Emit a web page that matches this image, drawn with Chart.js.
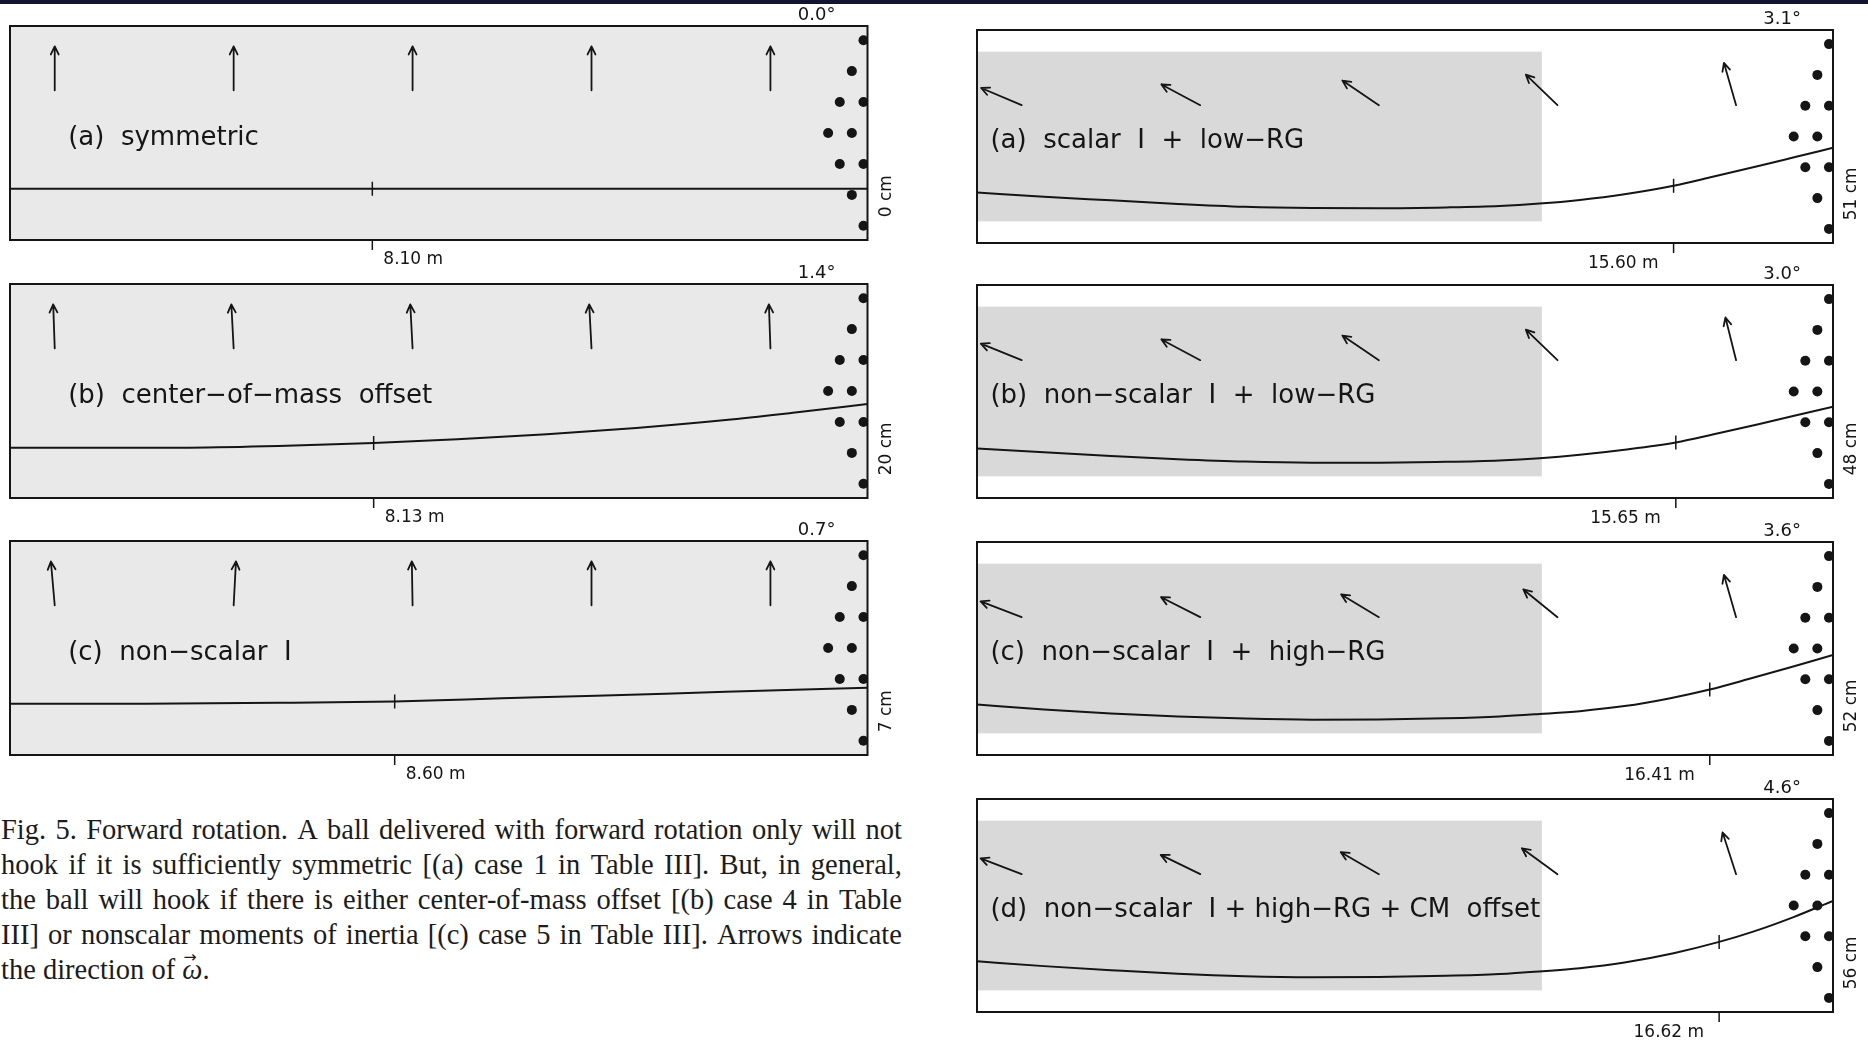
<!DOCTYPE html>
<html>
<head>
<meta charset="utf-8">
<title>Fig. 5 Forward rotation</title>
<script src="https://cdn.jsdelivr.net/npm/chart.js@4.4.1/dist/chart.umd.min.js"></script>
<style>
  html, body { margin: 0; padding: 0; background: #fff; }
  body { width: 1868px; height: 1041px; position: relative; overflow: hidden; }
  .topbar { position: absolute; left: 0; top: 0; width: 1868px; height: 4px; background: #11152f; }
  canvas.lane { position: absolute; }
  #caption {
    position: absolute; left: 1px; top: 812px; width: 901px;
    font-family: "Liberation Serif", "Times New Roman", serif;
    font-size: 28.5px; line-height: 35px; color: #1c1c1c;
  }
  #caption .line { display: flex; justify-content: space-between; white-space: nowrap; }
  #caption .line.last { justify-content: flex-start; }
  #caption .line.last > span { margin-right: 0.25em; }
  .vec { display: inline-block; position: relative; font-style: italic; }
  .vec .arr {
    position: absolute; left: 0.08em; top: -0.2em; line-height: 1;
    font-size: 0.55em; font-style: normal; font-family: "DejaVu Sans", sans-serif;
  }
</style>
</head>
<body>
<div class="topbar"></div>
<div id="caption"></div>
<script>
// Lane geometry: x in metres from the foul line, y in cm from the lane centre
const laneLength = 19.17;
const laneHalfWidth = 52.7;
const oilLength = 12.65;
const oilHalfWidth = 42;

// Pin deck (head pin first)
const pinX = [18.29, 18.55, 18.55, 18.82, 18.82, 18.82, 19.08, 19.08, 19.08, 19.08];
const pinY = [0, 15.24, -15.24, 30.48, 0, -30.48, 45.72, 15.24, -15.24, -45.72];

// Omega arrows: where they sit along the lane
const arrowX = [1, 5, 9, 13, 17];
const arrowYLeft = 21;
const arrowYRight = 15.5;

// Left column: forward rotation only
const leftTitles = ['(a)  symmetric', '(b)  center\u2212of\u2212mass  offset', '(c)  non\u2212scalar  I'];
const leftSkid = [8.10, 8.13, 8.60];
const leftEntryAngle = [0.0, 1.4, 0.7];
const leftHook = [0, 20, 7];
const leftArrowTilt = [[0, 0, 0, 0, 0], [2, 3, 3, 3, 2], [5, -3, 1, 0, 0]];

const symPathX = [0, 4, 8.10, 12, 19.17];
const symPathY = [-27.5, -27.5, -27.5, -27.5, -27.5];
const cmPathX = [0, 2, 4, 6, 8.13, 10, 12, 14, 16, 17.5, 19.17];
const cmPathY = [-28, -28, -27.9, -27.1, -25.6, -23.8, -21.3, -18.2, -14.3, -10.7, -6.4];
const nsPathX = [0, 3, 6, 8.60, 11, 13.1, 16, 19.17];
const nsPathY = [-27.5, -27.4, -27.0, -26.3, -24.8, -23.5, -21.6, -19.6];

// Right column: oiled front, dry back end
const rightTitles = [
    '(a)  scalar  I  +  low\u2212RG',
    '(b)  non\u2212scalar  I  +  low\u2212RG',
    '(c)  non\u2212scalar  I  +  high\u2212RG',
    '(d)  non\u2212scalar  I + high\u2212RG + CM  offset'
];
const rightSkid = [15.60, 15.65, 16.41, 16.62];
const rightEntryAngle = [3.1, 3.0, 3.6, 4.6];
const rightHook = [51, 48, 52, 56];
const rightArrowTilt = [[67, 62, 56, 46, 16], [68, 62, 56, 46, 14], [69, 63, 59, 51, 16], [69, 64, 60, 54, 18]];

const lowRgPathX = [0, 1.5, 3, 4.5, 6, 7.5, 9, 10.5, 11.7, 12.6, 13.5, 14.5, 15.60, 16.5, 17.5, 18.3, 19.17];
const lowRgPathY = [-27.7, -29.8, -31.6, -33.4, -34.8, -35.4, -35.5, -35.1, -34.4, -33.2, -31.4, -28.6, -24.4, -19.8, -14.6, -10.3, -5.6];
const nsLowPathX = [0, 1.5, 3, 4.5, 6, 7.5, 9, 10.5, 11.7, 12.6, 13.5, 14.5, 15.65, 16.5, 17.5, 18.3, 19.17];
const nsLowPathY = [-28.2, -30.1, -31.9, -33.5, -34.7, -35.2, -35.2, -34.8, -34.1, -33.0, -31.3, -28.8, -25.2, -21.2, -16.2, -12.0, -7.5];
const nsHighPathX = [0, 1.5, 3, 4.5, 6, 7.5, 9, 10.5, 11.7, 12.6, 13.5, 14.5, 15.5, 16.41, 17.3, 18.3, 19.17];
const nsHighPathY = [-27.7, -30.2, -32.2, -33.7, -34.7, -35.2, -35.1, -34.5, -33.6, -32.4, -31.0, -28.5, -24.7, -20.3, -15.0, -8.8, -3.2];
const cmHighPathX = [0, 1.5, 3, 4.5, 6, 7.5, 9, 10.5, 11.7, 12.6, 13.5, 14.5, 15.6, 16.62, 17.4, 18.3, 19.17];
const cmHighPathY = [-27.6, -30.0, -32.0, -33.8, -35.0, -35.5, -35.4, -34.8, -33.9, -32.6, -31.0, -28.2, -23.6, -18.0, -12.8, -5.6, 2.3];

// Where each hook label starts, in cm across the lane
const hookLabelStart = -41.5;

// Caption, one entry per printed line
const captionLines = [
    'Fig. 5. Forward rotation. A ball delivered with forward rotation only will not',
    'hook if it is sufficiently symmetric [(a) case 1 in Table III]. But, in general,',
    'the ball will hook if there is either center-of-mass offset [(b) case 4 in Table',
    'III] or nonscalar moments of inertia [(c) case 5 in Table III]. Arrows indicate',
    'the direction of \u03c9.'
];

// Styling
const FONT = '"DejaVu Sans", "Liberation Sans", sans-serif';
const INK = '#151515';
const LANE_GRAY = '#e9e9e9';
const OIL_GRAY = '#d9d9d9';

// Frame boxes on the page
const LEFT_BOX = { left: 9.5, width: 857.5, height: 214, tops: [26, 283.5, 541] };
const RIGHT_BOX = { left: 977, width: 856, height: 213, tops: [30, 285, 542, 798.5] };

/**
 * Linear lookup of the path height at a given distance
 */
function pathYAt(xs, ys, x) {
    for (let i = 1; i < xs.length; i++) {
        if (x <= xs[i]) {
            const t = (x - xs[i - 1]) / (xs[i] - xs[i - 1]);
            return ys[i - 1] + t * (ys[i] - ys[i - 1]);
        }
    }
    return ys[ys.length - 1];
}

/**
 * Draws one omega arrow, leaning left by `tilt` degrees
 */
function drawArrow(ctx, bx, by, tilt, len) {
    const a = tilt * Math.PI / 180;
    const ux = -Math.sin(a), uy = -Math.cos(a);
    const tx = bx + ux * len, ty = by + uy * len;
    ctx.beginPath();
    ctx.moveTo(bx, by);
    ctx.lineTo(tx, ty);
    const head = 9, spread = 0.45;
    [spread, -spread].forEach(s => {
        const c = Math.cos(s), n = Math.sin(s);
        // back direction (-u) rotated by s
        const hx = -ux * c + uy * n;
        const hy = -ux * n - uy * c;
        ctx.moveTo(tx, ty);
        ctx.lineTo(tx + hx * head, ty + hy * head);
    });
    ctx.stroke();
}

/**
 * Builds the plugin that paints lane, frame, arrows and labels
 */
function makeLanePlugin(panel) {
    return {
        id: 'lane',
        beforeDatasetsDraw(chart) {
            const { ctx, chartArea: a, scales: { x, y } } = chart;
            ctx.save();
            if (panel.oil) {
                ctx.fillStyle = '#ffffff';
                ctx.fillRect(a.left, a.top, a.width, a.height);
                const x0 = x.getPixelForValue(0), x1 = x.getPixelForValue(oilLength);
                const y0 = y.getPixelForValue(oilHalfWidth), y1 = y.getPixelForValue(-oilHalfWidth);
                ctx.fillStyle = OIL_GRAY;
                ctx.fillRect(x0, y0, x1 - x0, y1 - y0);
            } else {
                ctx.fillStyle = LANE_GRAY;
                ctx.fillRect(a.left, a.top, a.width, a.height);
            }
            ctx.restore();
        },
        afterDatasetsDraw(chart) {
            const { ctx, chartArea: a, scales: { x, y } } = chart;
            ctx.save();
            ctx.strokeStyle = INK;
            ctx.fillStyle = INK;

            // Frame
            ctx.lineWidth = 2;
            ctx.strokeRect(a.left, a.top, a.width, a.height);

            // Omega arrows
            ctx.lineWidth = 1.8;
            ctx.lineCap = 'round';
            arrowX.forEach((ax, i) => {
                drawArrow(ctx, x.getPixelForValue(ax), y.getPixelForValue(panel.arrowY), panel.tilt[i], 44);
            });

            // Skid-to-roll mark on the path and below the frame
            const sx = x.getPixelForValue(panel.skid);
            const sy = y.getPixelForValue(pathYAt(panel.pathX, panel.pathY, panel.skid));
            ctx.lineWidth = 1.5;
            ctx.lineCap = 'butt';
            ctx.beginPath();
            ctx.moveTo(sx, sy - 7);
            ctx.lineTo(sx, sy + 7);
            ctx.moveTo(sx, a.bottom);
            ctx.lineTo(sx, a.bottom + 10);
            ctx.stroke();

            // Distance label
            ctx.font = '17px ' + FONT;
            ctx.textBaseline = 'middle';
            const dist = panel.skid.toFixed(2) + ' m';
            if (panel.oil) {
                ctx.textAlign = 'right';
                ctx.fillText(dist, sx - 15, a.bottom + 21);
            } else {
                ctx.textAlign = 'left';
                ctx.fillText(dist, sx + 11, a.bottom + 20);
            }

            // Entry angle above the pin deck
            ctx.font = '18px ' + FONT;
            ctx.textAlign = 'right';
            ctx.textBaseline = 'alphabetic';
            ctx.fillText(panel.angle.toFixed(1) + '\u00b0', a.right - 32, a.top - 6);

            // Panel title
            ctx.font = '26px ' + FONT;
            ctx.textAlign = 'left';
            ctx.textBaseline = 'middle';
            ctx.fillText(panel.title, x.getPixelForValue(panel.titleX), y.getPixelForValue(-2.5));

            // Hook distance, written up the right-hand side
            ctx.font = '17px ' + FONT;
            ctx.translate(a.right + 19, y.getPixelForValue(hookLabelStart));
            ctx.rotate(-Math.PI / 2);
            ctx.textAlign = 'left';
            ctx.fillText(panel.hook + ' cm', 0, 0);
            ctx.restore();
        }
    };
}

/**
 * Creates one lane chart inside a positioned canvas
 */
function createLaneChart(panel, box, top) {
    const pad = { left: 16, right: 42, top: 30, bottom: 30 };
    const canvas = document.createElement('canvas');
    canvas.className = 'lane';
    const cw = Math.ceil(box.width + pad.left + pad.right);
    const ch = Math.ceil(box.height + pad.top + pad.bottom);
    canvas.width = cw;
    canvas.height = ch;
    canvas.style.left = (box.left - pad.left) + 'px';
    canvas.style.top = (top - pad.top) + 'px';
    canvas.style.width = cw + 'px';
    canvas.style.height = ch + 'px';
    document.body.appendChild(canvas);

    const pathPoints = panel.pathX.map((px, i) => ({ x: px, y: panel.pathY[i] }));
    const pinPoints = pinX.map((px, i) => ({ x: px, y: pinY[i] }));

    return new Chart(canvas, {
        type: 'line',
        data: {
            datasets: [
                {
                    data: pathPoints,
                    borderColor: INK,
                    borderWidth: 2,
                    pointRadius: 0,
                    cubicInterpolationMode: 'monotone',
                    fill: false
                },
                {
                    data: pinPoints,
                    showLine: false,
                    pointRadius: 5,
                    pointBorderWidth: 0,
                    pointBackgroundColor: INK,
                    pointBorderColor: INK
                }
            ]
        },
        options: {
            responsive: false,
            animation: false,
            events: [],
            layout: {
                padding: { left: pad.left, top: pad.top, right: cw - pad.left - box.width, bottom: ch - pad.top - box.height }
            },
            scales: {
                x: { type: 'linear', min: 0, max: laneLength, display: false },
                y: { type: 'linear', min: -laneHalfWidth, max: laneHalfWidth, display: false }
            },
            plugins: {
                legend: { display: false },
                tooltip: { enabled: false }
            }
        },
        plugins: [makeLanePlugin(panel)]
    });
}

/**
 * Writes the caption, one justified flex row per printed line
 */
function buildCaption() {
    const caption = document.getElementById('caption');
    captionLines.forEach((text, i) => {
        const line = document.createElement('div');
        line.className = 'line' + (i === captionLines.length - 1 ? ' last' : '');
        text.split(' ').forEach(word => {
            const span = document.createElement('span');
            if (word.indexOf('\u03c9') >= 0) {
                const w = document.createElement('span');
                w.className = 'vec';
                w.textContent = '\u03c9';
                const arr = document.createElement('span');
                arr.className = 'arr';
                arr.textContent = '\u2192';
                w.appendChild(arr);
                span.appendChild(w);
                span.appendChild(document.createTextNode(word.replace('\u03c9', '')));
            } else {
                span.textContent = word;
            }
            line.appendChild(span);
        });
        caption.appendChild(line);
    });
}

document.addEventListener('DOMContentLoaded', function() {
    buildCaption();

    const leftPaths = [[symPathX, symPathY], [cmPathX, cmPathY], [nsPathX, nsPathY]];
    const rightPaths = [[lowRgPathX, lowRgPathY], [nsLowPathX, nsLowPathY], [nsHighPathX, nsHighPathY], [cmHighPathX, cmHighPathY]];

    leftPaths.forEach((p, i) => {
        createLaneChart({
            oil: false,
            pathX: p[0], pathY: p[1],
            title: leftTitles[i], titleX: 1.3,
            skid: leftSkid[i], angle: leftEntryAngle[i], hook: leftHook[i],
            tilt: leftArrowTilt[i], arrowY: arrowYLeft
        }, LEFT_BOX, LEFT_BOX.tops[i]);
    });

    rightPaths.forEach((p, i) => {
        createLaneChart({
            oil: true,
            pathX: p[0], pathY: p[1],
            title: rightTitles[i], titleX: 0.3,
            skid: rightSkid[i], angle: rightEntryAngle[i], hook: rightHook[i],
            tilt: rightArrowTilt[i], arrowY: arrowYRight
        }, RIGHT_BOX, RIGHT_BOX.tops[i]);
    });
});
</script>
</body>
</html>
